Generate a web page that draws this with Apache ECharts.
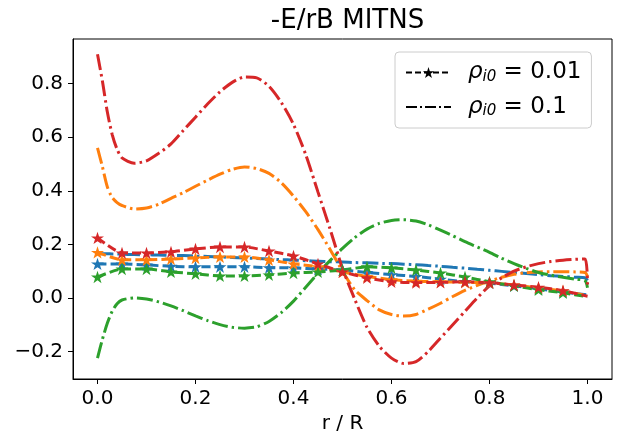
<!DOCTYPE html>
<html>
<head>
<meta charset="utf-8">
<script src="https://cdn.jsdelivr.net/npm/echarts@6/dist/echarts.min.js"></script>
<style>html,body{margin:0;padding:0;background:#fff}#c{width:618px;height:441px}</style>
</head>
<body>
<div id="c"></div>
<script>
// ---- data ----
const titleText = '-E/rB MITNS';
const xLabel = 'r / R';
const xTicks = [0, 0.2, 0.4, 0.6, 0.8, 1.0];
const yTicks = [-0.2, 0, 0.2, 0.4, 0.6, 0.8];
const legendLabels = ['ρi0 = 0.01', 'ρi0 = 0.1'];
const colors = ['#1f77b4', '#ff7f0e', '#2ca02c', '#d62728'];

// rho_i0 = 0.01 (dashed + star)
const rStar = [0, 0.05, 0.1, 0.15, 0.2, 0.25, 0.3, 0.35, 0.4, 0.45, 0.5, 0.55, 0.6, 0.65, 0.7, 0.75, 0.8, 0.85, 0.9, 0.95, 1.0];
const blueStar   = [0.127, 0.127, 0.123, 0.118, 0.116, 0.116, 0.116, 0.113, 0.112, 0.108, 0.104, 0.095, 0.087, 0.080, 0.070, 0.060, 0.055, 0.045, 0.034, 0.022, 0.011];
const orangeStar = [0.170, 0.142, 0.142, 0.145, 0.149, 0.153, 0.153, 0.142, 0.127, 0.116, 0.097, 0.080, 0.068, 0.062, 0.060, 0.058, 0.056, 0.048, 0.037, 0.026, 0.008];
const greenStar  = [0.078, 0.108, 0.108, 0.097, 0.090, 0.082, 0.082, 0.086, 0.093, 0.097, 0.104, 0.116, 0.112, 0.104, 0.093, 0.078, 0.060, 0.045, 0.030, 0.019, 0.004];
const redStar    = [0.224, 0.168, 0.168, 0.172, 0.183, 0.190, 0.190, 0.175, 0.157, 0.127, 0.097, 0.075, 0.060, 0.057, 0.058, 0.060, 0.057, 0.048, 0.040, 0.027, 0.006];

// rho_i0 = 0.1 (dash-dot)
const rDash = [0, 0.01, 0.02, 0.03, 0.04, 0.05,
  0.075, 0.1, 0.125, 0.15, 0.175, 0.2, 0.225, 0.25, 0.275, 0.3,
  0.325, 0.35, 0.375, 0.4, 0.425, 0.45, 0.475, 0.5, 0.525, 0.55,
  0.575, 0.6, 0.625, 0.65, 0.675, 0.7, 0.725, 0.75, 0.775, 0.8,
  0.825, 0.85, 0.875, 0.9, 0.925, 0.95, 0.975,
  0.995, 1.0];
const blueDash = [0.165, 0.165, 0.165, 0.164, 0.164, 0.163,
  0.162, 0.161, 0.160, 0.159, 0.158, 0.156, 0.155, 0.153, 0.151, 0.149,
  0.147, 0.145, 0.143, 0.141, 0.139, 0.137, 0.135, 0.134, 0.132, 0.131,
  0.129, 0.128, 0.126, 0.124, 0.121, 0.118, 0.114, 0.111, 0.107, 0.103,
  0.099, 0.095, 0.091, 0.087, 0.083, 0.080, 0.077,
  0.075, 0.065];
const orangeDash = [0.56, 0.49, 0.415, 0.375, 0.356, 0.345,
  0.332, 0.336, 0.350, 0.372, 0.393, 0.417, 0.440, 0.462, 0.480, 0.489,
  0.483, 0.465, 0.430, 0.380, 0.322, 0.255, 0.180, 0.100, 0.030, -0.010,
  -0.045, -0.062, -0.068, -0.062, -0.042, -0.020, 0.005, 0.028, 0.047, 0.063,
  0.077, 0.088, 0.094, 0.097, 0.098, 0.098, 0.097,
  0.095, 0.080];
const greenDash = [-0.225, -0.155, -0.095, -0.050, -0.022, -0.008,
  0.000, -0.004, -0.015, -0.030, -0.048, -0.067, -0.085, -0.100, -0.110, -0.113,
  -0.108, -0.088, -0.055, -0.012, 0.040, 0.092, 0.140, 0.185, 0.225, 0.257,
  0.278, 0.289, 0.292, 0.287, 0.273, 0.253, 0.232, 0.210, 0.190, 0.170,
  0.148, 0.128, 0.110, 0.095, 0.085, 0.077, 0.070,
  0.064, 0.038];
const redDash = [0.91, 0.81, 0.695, 0.61, 0.555, 0.523,
  0.503, 0.512, 0.540, 0.575, 0.625, 0.675, 0.725, 0.770, 0.805, 0.825,
  0.822, 0.790, 0.730, 0.648, 0.535, 0.395, 0.255, 0.110, -0.005, -0.110,
  -0.180, -0.225, -0.245, -0.238, -0.200, -0.150, -0.100, -0.050, 0.000, 0.045,
  0.075, 0.100, 0.116, 0.128, 0.136, 0.141, 0.144,
  0.145, 0.050];

// ---- chart ----
const FONT = 'DejaVu Sans';
const STAR = 'path://M100,0 L122.45,69.1 L195.1,69.1 L136.3,111.8 L158.8,180.9 L100,138.2 L41.2,180.9 L63.7,111.8 L4.9,69.1 L77.55,69.1 Z';
const LW = 3;
const DASHED = [9, 4];
const DASHDOT = [16, 4, 2.5, 4];
const pairs = (xs, ys) => xs.map((x, i) => [x, ys[i]]);
const fmt = v => (v < 0 ? '\u2212' : '') + Math.abs(v).toFixed(1);

const starSets = [blueStar, orangeStar, greenStar, redStar];
const dashSets = [blueDash, orangeDash, greenDash, redDash];

const series = [];
dashSets.forEach((d, i) => series.push({
  type: 'line', data: pairs(rDash, d), smooth: 0.25, symbol: 'none',
  lineStyle: { color: colors[i], width: LW, type: DASHDOT }, z: 2, silent: true
}));
starSets.forEach((d, i) => series.push({
  type: 'line', smooth: 0.2,
  data: rStar.map((x, j) => (j === rStar.length - 1 ? { value: [x, d[j]], symbol: 'none' } : [x, d[j]])),
  symbol: STAR, symbolSize: 13, symbolKeepAspect: true,
  itemStyle: { color: colors[i] },
  lineStyle: { color: colors[i], width: LW, type: DASHED }, z: 3, silent: true
}));
// legend proxies
series.push({ name: legendLabels[0], type: 'line', data: [], symbol: STAR, symbolSize: 12,
  itemStyle: { color: '#000' }, lineStyle: { color: '#000', width: 2, type: [6, 3] } });
series.push({ name: legendLabels[1], type: 'line', data: [], symbol: 'circle', symbolSize: 0,
  itemStyle: { color: '#000', opacity: 0 }, lineStyle: { color: '#000', width: 2, opacity: 1, type: [11, 3, 2, 3] } });

const chart = echarts.init(document.getElementById('c'), null, { renderer: 'canvas' });
chart.setOption({
  animation: false,
  backgroundColor: '#fff',
  title: {
    text: titleText, left: 342.5, textAlign: 'center', top: 3,
    textStyle: { fontFamily: FONT, fontSize: 26, fontWeight: 'normal', color: '#000' }
  },
  legend: {
    orient: 'vertical', left: 395, top: 52, padding: [9, 10, 9, 10], itemGap: 11,
    itemWidth: 45, itemHeight: 14,
    borderColor: '#cccccc', borderWidth: 1, borderRadius: 4,
    data: legendLabels,
    formatter: name => {
      const parts = name.split('= ');
      return '{r|ρ}{s|i0}{t| = ' + parts[1] + '}';
    },
    textStyle: {
      fontFamily: FONT, fontSize: 22, color: '#000', padding: [0, 0, 0, 12],
      rich: {
        r: { fontFamily: FONT, fontSize: 23, fontStyle: 'italic', color: '#000' },
        s: { fontFamily: FONT, fontSize: 15, fontStyle: 'italic', color: '#000', padding: [9, 0, 0, 0] },
        t: { fontFamily: FONT, fontSize: 23, color: '#000' }
      }
    }
  },
  grid: { left: 73, right: 6, top: 39, bottom: 62, show: true, borderColor: '#000', borderWidth: 1, containLabel: false },
  xAxis: {
    type: 'value', min: -0.05, max: 1.05,
    name: xLabel, nameLocation: 'middle', nameGap: 28,
    nameTextStyle: { fontFamily: FONT, fontSize: 20, color: '#000' },
    axisLine: { show: true, onZero: false, lineStyle: { color: '#000', width: 1 } },
    axisTick: { show: true, length: 5, lineStyle: { color: '#000' }, customValues: xTicks },
    axisLabel: { fontFamily: FONT, fontSize: 20, color: '#000', margin: 10, customValues: xTicks, formatter: fmt },
    splitLine: { show: false }
  },
  yAxis: {
    type: 'value', min: -0.303, max: 0.967,
    axisLine: { show: true, onZero: false, lineStyle: { color: '#000', width: 1 } },
    axisTick: { show: true, length: 5, lineStyle: { color: '#000' }, customValues: yTicks },
    axisLabel: { fontFamily: FONT, fontSize: 20, color: '#000', margin: 10, customValues: yTicks, formatter: fmt },
    splitLine: { show: false }
  },
  series: series
});
</script>
</body>
</html>
